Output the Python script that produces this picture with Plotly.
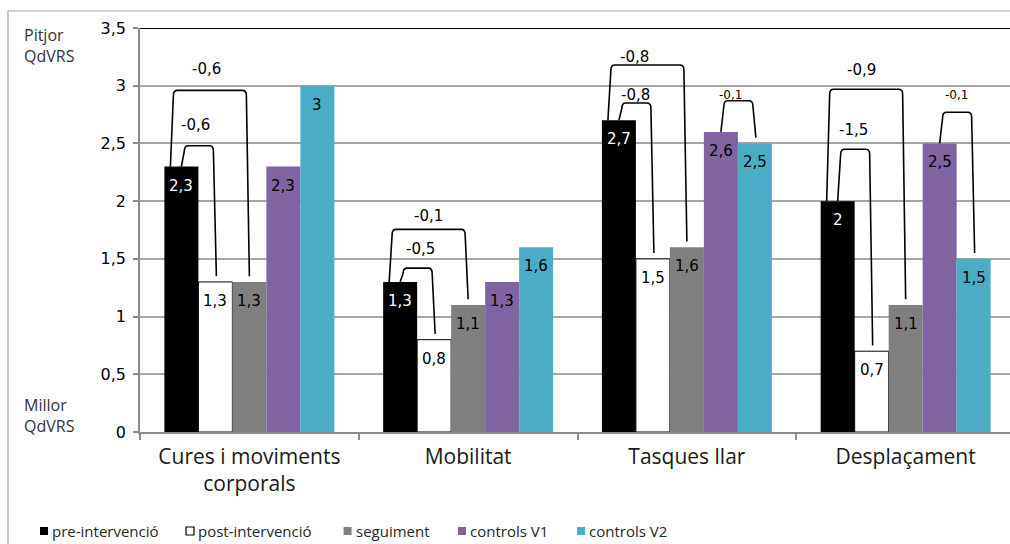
import plotly.graph_objects as go

# --- data -------------------------------------------------------------
categories = ["Cures i moviments<br>corporals", "Mobilitat", "Tasques llar", "Desplaçament"]
series_names = ["pre-intervenció", "post-intervenció", "seguiment", "controls V1", "controls V2"]

pre_intervencio = [2.3, 1.3, 2.7, 2.0]
post_intervencio = [1.3, 0.8, 1.5, 0.7]
seguiment = [1.3, 1.1, 1.6, 1.1]
controls_v1 = [2.3, 1.3, 2.6, 2.5]
controls_v2 = [3.0, 1.6, 2.5, 1.5]

y_tick_values = [0, 0.5, 1, 1.5, 2, 2.5, 3, 3.5]
y_tick_labels = ["0", "0,5", "1", "1,5", "2", "2,5", "3", "3,5"]

# differences drawn as brackets between two bars of the same category
bracket_category = [0, 0, 1, 1, 2, 2, 2, 3, 3, 3]
bracket_from = [0, 0, 0, 0, 0, 0, 3, 0, 0, 3]
bracket_to = [1, 2, 1, 2, 1, 2, 4, 1, 2, 4]
bracket_labels = ["-0,6", "-0,6", "-0,5", "-0,1", "-0,8", "-0,8", "-0,1", "-1,5", "-0,9", "-0,1"]

# --- styling / geometry ------------------------------------------------
colors = ["#000000", "#ffffff", "#7f7f7f", "#8064a2", "#4bacc6"]
label_colors = ["#ffffff", "#000000", "#000000", "#000000", "#000000"]
bracket_level = [2.48, 2.96, 1.42, 1.755, 2.85, 3.18, 2.87, 2.45, 2.97, 2.77]
bracket_label_dy = [21, 21, 19, 13, 8, 8, 6, 19, 19, 17]
bracket_label_dx = [-3, -3, 3, 0, -1, -13, -8, -2, -5, -1]

W, H = 1010, 544
ML, MR, MT, MB = 140, 0, 28, 112
BARGAP = 0.223
X_RANGE = [-0.5, 3.477]
PW = W - ML - MR
PH = H - MT - MB
BAR_W = (1 - BARGAP) / len(series_names)
PX_X = (X_RANGE[1] - X_RANGE[0]) / PW        # data units per pixel (x)
PX_Y = 3.5 / PH                               # data units per pixel (y)

GRID = "#a6a6a6"
NUM_FONT = "DejaVu Sans"
TXT_FONT = "Open Sans"


def fmt(v):
    return f"{v:g}".replace(".", ",")


def px2paper(px, py):
    return (px - ML) / PW, (H - MB - py) / PH


series_values = [pre_intervencio, post_intervencio, seguiment, controls_v1, controls_v2]
x_pos = list(range(len(categories)))

fig = go.Figure()
for i, (name, vals) in enumerate(zip(series_names, series_values)):
    fig.add_trace(go.Bar(
        name=name, x=x_pos, y=vals,
        marker=dict(color=colors[i],
                    line=dict(color="#000000" if i < 2 else colors[i], width=1 if i == 1 else 0)),
        showlegend=False, hoverinfo="skip",
    ))

annotations = []
shapes = []


def bar_center(cat, s):
    return cat + (s - (len(series_names) - 1) / 2) * BAR_W


# value labels inside the top of each bar
for i, vals in enumerate(series_values):
    for c, v in enumerate(vals):
        annotations.append(dict(
            x=bar_center(c, i), y=v, xref="x", yref="y", yshift=-19,
            text=fmt(v), showarrow=False,
            font=dict(family=NUM_FONT, size=15, color=label_colors[i]),
        ))

# brackets with rounded corners
rx = 4 * PX_X
ry = 5 * PX_Y
slant = 3 * PX_X
for k in range(len(bracket_labels)):
    c = bracket_category[k]
    a, b = bracket_from[k], bracket_to[k]
    x1 = bar_center(c, a)
    if b - a == 2:
        x1 -= 11 * PX_X
    x2 = bar_center(c, b) + (1 * PX_X if b - a == 1 else 0)
    y0 = series_values[a][c]
    y1 = series_values[b][c] + 0.05
    top = bracket_level[k]
    path = (f"M {x1},{y0} L {x1 + slant},{top - ry} "
            f"Q {x1 + slant},{top} {x1 + slant + rx},{top} "
            f"L {x2 - slant - rx},{top} "
            f"Q {x2 - slant},{top} {x2 - slant},{top - ry} "
            f"L {x2},{y1}")
    shapes.append(dict(type="path", path=path, xref="x", yref="y",
                       line=dict(color="#000000", width=1.6), layer="above"))
    small = (a == 3)
    annotations.append(dict(
        x=(x1 + x2) / 2, y=top, xref="x", yref="y",
        yshift=bracket_label_dy[k], xshift=bracket_label_dx[k],
        text=bracket_labels[k], showarrow=False,
        font=dict(family=NUM_FONT, size=12 if small else 15, color="#000000"),
    ))

# black line along the top of the plot area
shapes.append(dict(type="line", xref="paper", yref="y", x0=0, x1=1, y0=3.5, y1=3.5,
                   line=dict(color="#000000", width=2), layer="above"))

# outer chart frame
fx, fy = px2paper(8, 11)
_, fbot = px2paper(8, H + 5)
rx_paper, _ = px2paper(W + 5, 0)
shapes.append(dict(type="line", xref="paper", yref="paper", x0=fx, x1=fx, y0=fy, y1=fbot,
                   line=dict(color="#a6a6a6", width=1.2)))
shapes.append(dict(type="line", xref="paper", yref="paper", x0=fx, x1=rx_paper, y0=fy, y1=fy,
                   line=dict(color="#a6a6a6", width=1.2)))

# scale end captions
for text, py in [("Pitjor<br>QdVRS", 45), ("Millor<br>QdVRS", 415)]:
    px_, py_ = px2paper(22, py)
    annotations.append(dict(x=px_, y=py_, xref="paper", yref="paper", xanchor="left",
                            yanchor="middle", align="left", text=text, showarrow=False,
                            font=dict(family=TXT_FONT, size=16, color="#333333")))

# legend
legend_marker_x = [44, 190, 347.6, 462, 581]
legend_y = 531
for i, name in enumerate(series_names):
    cx, cy = legend_marker_x[i], legend_y
    x0, y0 = px2paper(cx - 4, cy + 4)
    x1, y1 = px2paper(cx + 4, cy - 4)
    shapes.append(dict(type="rect", xref="paper", yref="paper", x0=x0, x1=x1, y0=y0, y1=y1,
                       fillcolor=colors[i],
                       line=dict(color="#000000" if i < 2 else colors[i], width=1.2 if i == 1 else 0)))
    tx, ty = px2paper(cx + 6, cy)
    annotations.append(dict(x=tx, y=ty, xref="paper", yref="paper", xanchor="left",
                            yanchor="middle", text=name, showarrow=False,
                            font=dict(family=TXT_FONT, size=15, color="#262626")))

fig.update_layout(
    width=W, height=H,
    margin=dict(l=ML, r=MR, t=MT, b=MB),
    paper_bgcolor="#ffffff", plot_bgcolor="#ffffff",
    barmode="group", bargap=BARGAP, bargroupgap=0,
    showlegend=False,
    shapes=shapes, annotations=annotations,
    xaxis=dict(
        range=X_RANGE, tickmode="array", tickvals=x_pos, ticktext=categories,
        ticks="", showgrid=False, zeroline=False,
        showline=True, linecolor="#8c8c8c", linewidth=1.5,
        tickfont=dict(family=TXT_FONT, size=21, color="#1a1a1a"),
        ticklabelstandoff=5,
        minor=dict(tickmode="array", tickvals=[-0.5, 0.5, 1.5, 2.5], ticks="outside",
                   ticklen=6, tickcolor="#8c8c8c", tickwidth=1.5, showgrid=False),
    ),
    yaxis=dict(
        range=[0, 3.5], tickmode="array", tickvals=y_tick_values, ticktext=y_tick_labels,
        ticks="outside", ticklen=5, tickcolor="#8c8c8c", tickwidth=1.5,
        showgrid=True, gridcolor=GRID, gridwidth=1.5, zeroline=False,
        showline=True, linecolor="#8c8c8c", linewidth=1.5,
        tickfont=dict(family=NUM_FONT, size=16, color="#000000"),
        ticklabelstandoff=4,
    ),
)

fig.write_html("out.html")
